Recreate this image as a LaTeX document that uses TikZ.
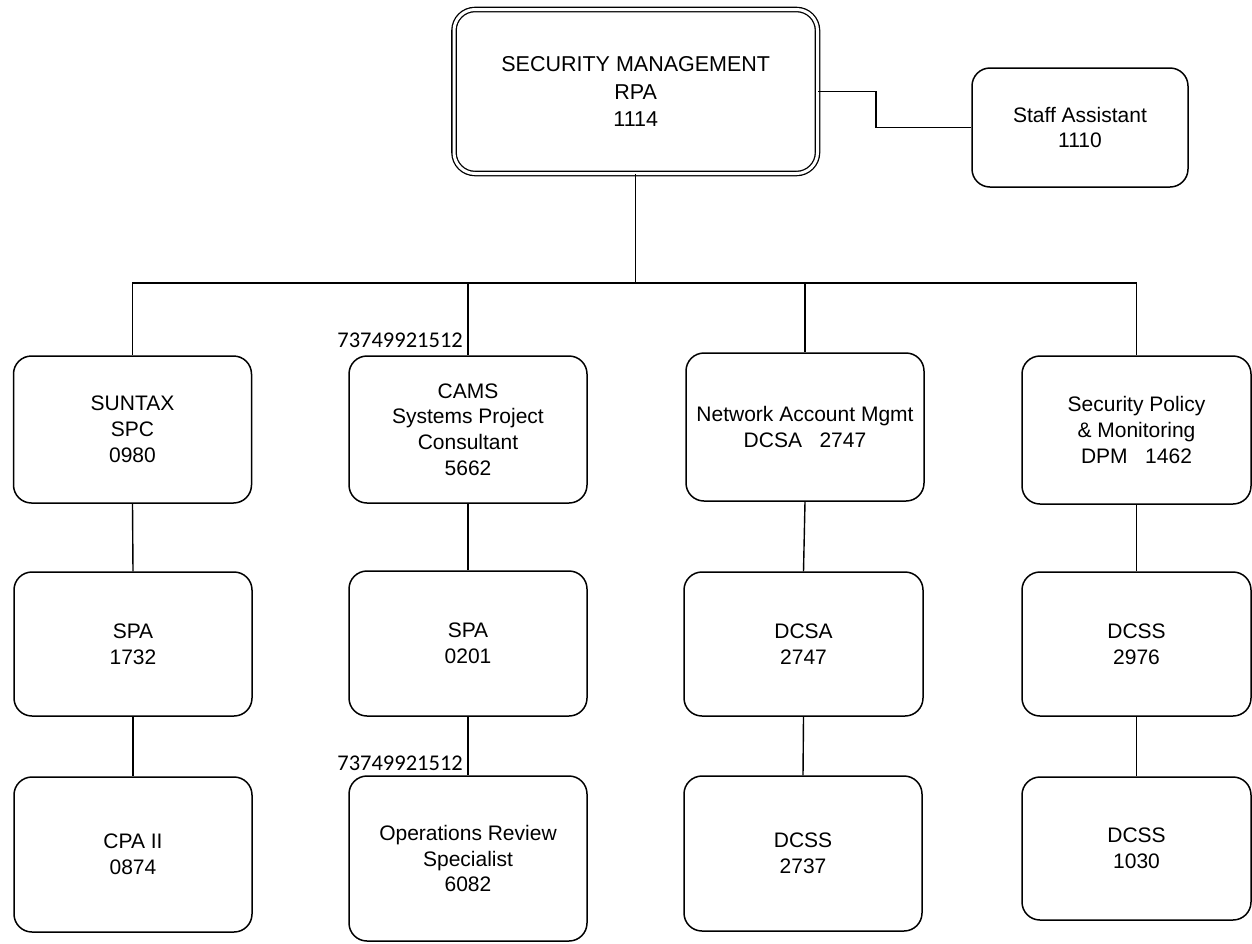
\documentclass[tikz,border=0pt]{standalone}
\usepackage{fontspec}
\setmainfont{Liberation Sans}
\newfontfamily\numfont{Carlito}
\begin{document}
\begin{tikzpicture}[x=1pt,y=-1pt,
  box/.style={draw=black, line width=1.5pt, rounded corners=18pt, fill=white,
    inner sep=0pt, align=center, font=\fontsize{21}{25.8}\selectfont},
  headbox/.style={draw=black, line width=1.3pt, double=white, double distance=3pt,
    rounded corners=21pt, inner sep=0pt, align=center,
    font=\fontsize{21.5}{27.5}\selectfont},
  link/.style={draw=black, line width=1.4pt},
  numlabel/.style={inner sep=0pt, anchor=east, font=\numfont\fontsize{22.5}{27}\selectfont}]

\useasboundingbox (0,0) rectangle (1252,943);

% head of the unit and its staff
\node[headbox, minimum width=363.5pt, minimum height=164pt] (head) at (635.75,91.5)
  {SECURITY MANAGEMENT\\RPA\\1114};
\node[box, minimum width=216pt, minimum height=119pt] (staff) at (1080,127.5)
  {Staff Assistant\\1110};

% first row
\node[box, minimum width=238pt, minimum height=147pt] (suntax) at (132.5,429.5)
  {SUNTAX\\SPC\\0980};
\node[box, minimum width=238pt, minimum height=147pt] (cams) at (468,429.5)
  {CAMS\\Systems Project\\Consultant\\5662};
\node[box, minimum width=238pt, minimum height=148pt] (network) at (805,427)
  {Network Account Mgmt\\DCSA\ \ \ 2747};
\node[box, minimum width=229pt, minimum height=148pt] (policy) at (1136.5,430)
  {Security Policy\\\& Monitoring\\DPM\ \ \ 1462};

% second row
\node[box, minimum width=238pt, minimum height=144pt] (spaA) at (133,644) {SPA\\1732};
\node[box, minimum width=238pt, minimum height=145pt] (spaB) at (468,643.5) {SPA\\0201};
\node[box, minimum width=239pt, minimum height=144pt] (dcsa) at (803.5,644) {DCSA\\2747};
\node[box, minimum width=229pt, minimum height=144pt] (dcssA) at (1136.5,644) {DCSS\\2976};

% third row
\node[box, minimum width=238pt, minimum height=155pt] (cpa) at (133,854.5) {CPA II\\0874};
\node[box, minimum width=238pt, minimum height=165pt] (ops) at (468,858.5)
  {Operations Review\\Specialist\\6082};
\node[box, minimum width=238pt, minimum height=155pt] (dcssB) at (803,853.5) {DCSS\\2737};
\node[box, minimum width=229pt, minimum height=143pt] (dcssC) at (1136.5,848.5) {DCSS\\1030};

% reference numbers
\node[numlabel] (refA) at (463,340.5) {73749921512};
\node[numlabel] (refB) at (463,763.5) {73749921512};

% connectors
\coordinate (bus) at (635.75,283);
\coordinate (elbow) at (876,127.5);
\draw[link] (head.east) -| (elbow) -- (staff.west);
\draw[link] (head.south) -- (bus);
\draw[link] (bus) -| (suntax.north);
\draw[link] (bus) -| (cams.north);
\draw[link] (bus) -| (network.north);
\draw[link] (bus) -| (policy.north);

\draw[link] (suntax.south) -- (spaA.north);
\draw[link] (spaA.south) -- (cpa.north);
\draw[link] (cams.south) -- (spaB.north);
\draw[link] (spaB.south) -- (ops.north);
\draw[link] (network.south) -- (dcsa.north);
\draw[link] (dcsa.south) -- (dcssB.north);
\draw[link] (policy.south) -- (dcssA.north);
\draw[link] (dcssA.south) -- (dcssC.north);
\end{tikzpicture}
\end{document}
